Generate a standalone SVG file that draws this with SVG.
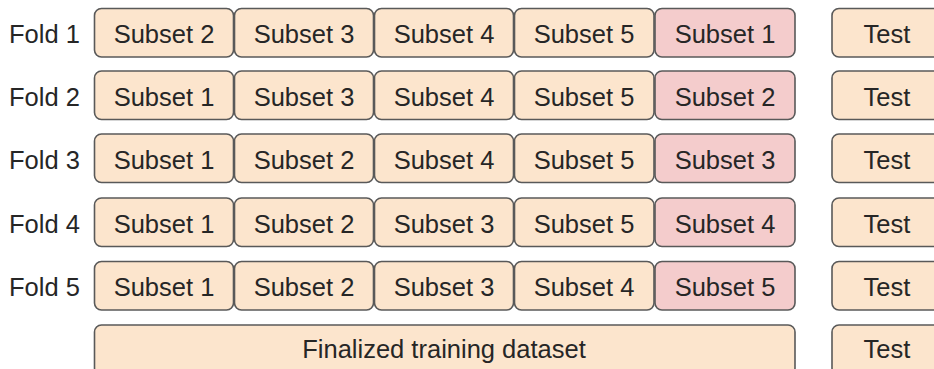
<svg xmlns="http://www.w3.org/2000/svg" width="934" height="369" viewBox="0 0 934 369">
<style>
text{font-family:"Liberation Sans",Arial,sans-serif;font-size:25.5px;fill:#262626}
.c{text-anchor:middle}
rect{stroke:#595959;stroke-width:1.6}
.tr{fill:#fce5cd}
.va{fill:#f4cccc}
</style>
<rect width="934" height="369" fill="#ffffff" style="stroke:none"/>
<g id="labels">
<text x="9" y="43">Fold 1</text>
<text x="9" y="105.5">Fold 2</text>
<text x="9" y="168.5">Fold 3</text>
<text x="9" y="232.5">Fold 4</text>
<text x="9" y="296">Fold 5</text>
</g>
<g id="fold1">
<rect class="tr" x="94.5" y="8.5" width="139" height="48.5" rx="7"/><text class="c" x="164" y="43">Subset 2</text>
<rect class="tr" x="234.5" y="8.5" width="139" height="48.5" rx="7"/><text class="c" x="304" y="43">Subset 3</text>
<rect class="tr" x="374.5" y="8.5" width="139" height="48.5" rx="7"/><text class="c" x="444" y="43">Subset 4</text>
<rect class="tr" x="514.5" y="8.5" width="139.5" height="48.5" rx="7"/><text class="c" x="584" y="43">Subset 5</text>
<rect class="va" x="655" y="8.5" width="140" height="48.5" rx="7"/><text class="c" x="725" y="43">Subset 1</text>
</g>
<g id="fold2">
<rect class="tr" x="94.5" y="71" width="139" height="48.5" rx="7"/><text class="c" x="164" y="105.5">Subset 1</text>
<rect class="tr" x="234.5" y="71" width="139" height="48.5" rx="7"/><text class="c" x="304" y="105.5">Subset 3</text>
<rect class="tr" x="374.5" y="71" width="139" height="48.5" rx="7"/><text class="c" x="444" y="105.5">Subset 4</text>
<rect class="tr" x="514.5" y="71" width="139.5" height="48.5" rx="7"/><text class="c" x="584" y="105.5">Subset 5</text>
<rect class="va" x="655" y="71" width="140" height="48.5" rx="7"/><text class="c" x="725" y="105.5">Subset 2</text>
</g>
<g id="fold3">
<rect class="tr" x="94.5" y="134" width="139" height="48.5" rx="7"/><text class="c" x="164" y="168.5">Subset 1</text>
<rect class="tr" x="234.5" y="134" width="139" height="48.5" rx="7"/><text class="c" x="304" y="168.5">Subset 2</text>
<rect class="tr" x="374.5" y="134" width="139" height="48.5" rx="7"/><text class="c" x="444" y="168.5">Subset 4</text>
<rect class="tr" x="514.5" y="134" width="139.5" height="48.5" rx="7"/><text class="c" x="584" y="168.5">Subset 5</text>
<rect class="va" x="655" y="134" width="140" height="48.5" rx="7"/><text class="c" x="725" y="168.5">Subset 3</text>
</g>
<g id="fold4">
<rect class="tr" x="94.5" y="198" width="139" height="48.5" rx="7"/><text class="c" x="164" y="232.5">Subset 1</text>
<rect class="tr" x="234.5" y="198" width="139" height="48.5" rx="7"/><text class="c" x="304" y="232.5">Subset 2</text>
<rect class="tr" x="374.5" y="198" width="139" height="48.5" rx="7"/><text class="c" x="444" y="232.5">Subset 3</text>
<rect class="tr" x="514.5" y="198" width="139.5" height="48.5" rx="7"/><text class="c" x="584" y="232.5">Subset 5</text>
<rect class="va" x="655" y="198" width="140" height="48.5" rx="7"/><text class="c" x="725" y="232.5">Subset 4</text>
</g>
<g id="fold5">
<rect class="tr" x="94.5" y="261.5" width="139" height="48.5" rx="7"/><text class="c" x="164" y="296">Subset 1</text>
<rect class="tr" x="234.5" y="261.5" width="139" height="48.5" rx="7"/><text class="c" x="304" y="296">Subset 2</text>
<rect class="tr" x="374.5" y="261.5" width="139" height="48.5" rx="7"/><text class="c" x="444" y="296">Subset 3</text>
<rect class="tr" x="514.5" y="261.5" width="139.5" height="48.5" rx="7"/><text class="c" x="584" y="296">Subset 4</text>
<rect class="va" x="655" y="261.5" width="140" height="48.5" rx="7"/><text class="c" x="725" y="296">Subset 5</text>
</g>
<g id="final">
<rect class="tr" x="94.5" y="325" width="700.5" height="50" rx="7"/><text class="c" x="444" y="358">Finalized training dataset</text>
</g>
<g id="tests">
<rect class="tr" x="832" y="8.5" width="110" height="48.5" rx="7"/><text class="c" x="887" y="43">Test</text>
<rect class="tr" x="832" y="71" width="110" height="48.5" rx="7"/><text class="c" x="887" y="105.5">Test</text>
<rect class="tr" x="832" y="134" width="110" height="48.5" rx="7"/><text class="c" x="887" y="168.5">Test</text>
<rect class="tr" x="832" y="198" width="110" height="48.5" rx="7"/><text class="c" x="887" y="232.5">Test</text>
<rect class="tr" x="832" y="261.5" width="110" height="48.5" rx="7"/><text class="c" x="887" y="296">Test</text>
<rect class="tr" x="832" y="325" width="110" height="50" rx="7"/><text class="c" x="887" y="358">Test</text>
</g>
<g id="connectors"></g>
</svg>
